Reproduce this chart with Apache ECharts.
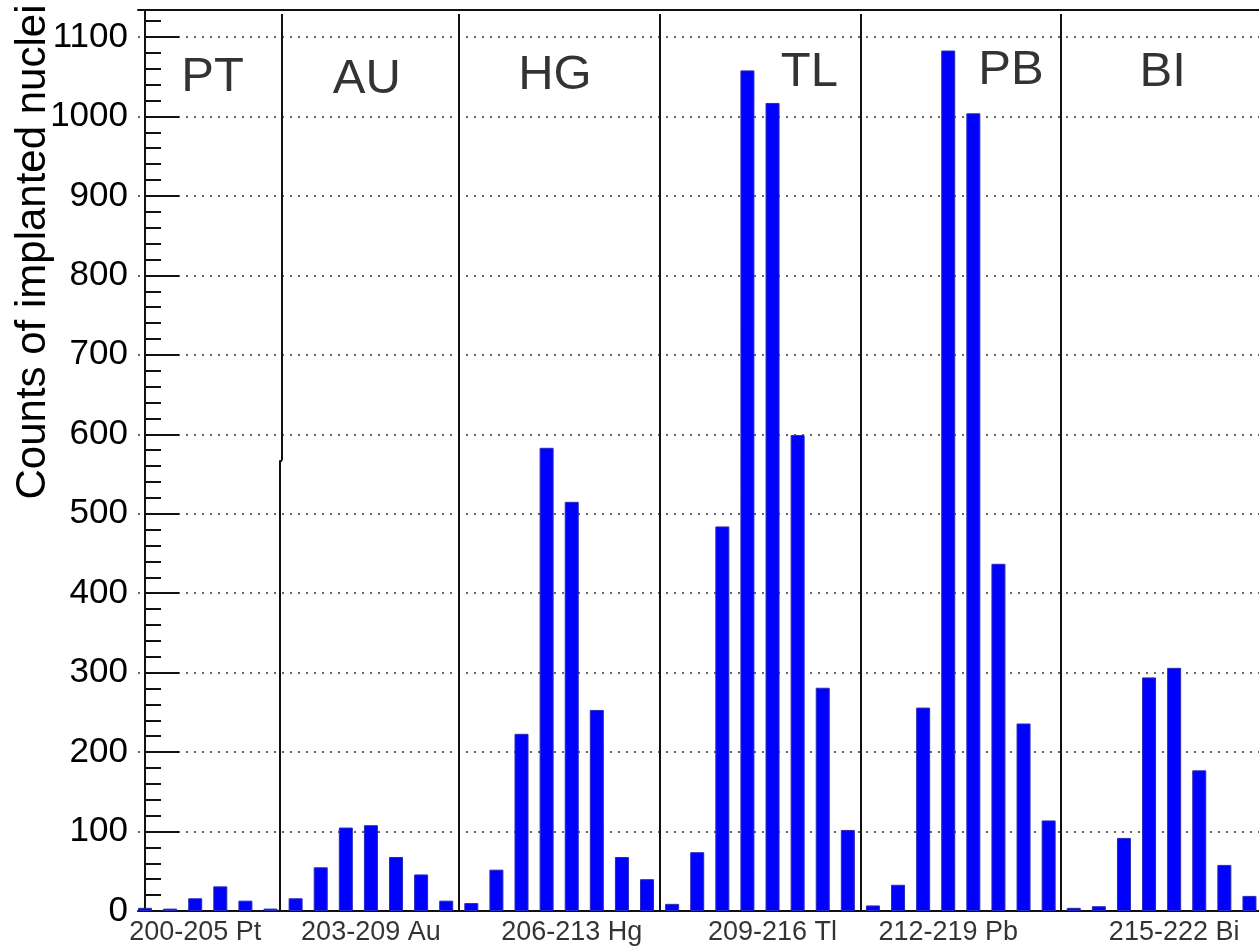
<!DOCTYPE html>
<html>
<head>
<meta charset="utf-8">
<script src="https://cdn.jsdelivr.net/npm/echarts@6/dist/echarts.min.js"></script>
<style>
  html, body { margin: 0; padding: 0; background: #ffffff; }
  #chart { width: 1259px; height: 948px; }
</style>
</head>
<body>
<div id="chart"></div>
<script>
// Implanted-nuclei counts per isotope, one array per element (consecutive mass numbers)
const ptCounts = [4, 3, 16, 31, 13, 3];                    // 200-205 Pt
const auCounts = [16, 55, 105, 108, 68, 46, 13];           // 203-209 Au
const hgCounts = [10, 52, 223, 583, 515, 253, 68, 40];     // 206-213 Hg
const tlCounts = [9, 74, 484, 1058, 1017, 599, 281, 102];  // 209-216 Tl
const pbCounts = [7, 33, 256, 1083, 1004, 437, 236, 114];  // 212-219 Pb
const biCounts = [4, 6, 92, 294, 306, 177, 58, 19];        // 215-222 Bi

const elementTags = ['PT', 'AU', 'HG', 'TL', 'PB', 'BI'];
const rangeLabels = ['200-205 Pt', '203-209 Au', '206-213 Hg', '209-216 Tl', '212-219 Pb', '215-222 Bi'];
const yTicks = [0, 100, 200, 300, 400, 500, 600, 700, 800, 900, 1000, 1100];

// Where the text annotations sit, in axis units (bin index, counts)
const rangeLabelBins = [2, 9, 17, 25, 32, 41];
const tagBinX = [2.69, 8.84, 16.33, 26.47, 34.5, 40.54];
const tagCountY = [1049, 1046, 1052, 1055, 1058, 1055];

const groups = [ptCounts, auCounts, hgCounts, tlCounts, pbCounts, biCounts];

// Flatten the groups into consecutive bins
const barData = [];
const boundaries = [];
let bin = 0;
groups.forEach((g, gi) => {
  g.forEach(v => { barData.push([bin, v]); bin++; });
  if (gi < groups.length - 1) boundaries.push(bin - 0.5);
});

// Vertical separators between elements (the first one has a small jog at 567)
const sepTop = 1129;
const sepLines = [];
boundaries.forEach((b, i) => {
  if (i === 0) {
    sepLines.push([{ coord: [b - 0.04, 567] }, { coord: [b - 0.04, sepTop] }]);
    sepLines.push([{ coord: [b - 0.14, 0] }, { coord: [b - 0.14, 567] }]);
    sepLines.push([{ coord: [b - 0.14, 567] }, { coord: [b - 0.04, 567] }]);
  } else {
    sepLines.push([{ coord: [b, 0] }, { coord: [b, sepTop] }]);
  }
});

const FONT = '"Liberation Sans", Arial, sans-serif';
const frameLine = { show: true, lineStyle: { color: '#111', width: 2 } };
const chart = echarts.init(document.getElementById('chart'), null, { renderer: 'canvas' });

chart.setOption({
  animation: false,
  backgroundColor: '#ffffff',
  grid: { left: 138, top: 10, right: 0, bottom: 37 },
  xAxis: [
    {
      type: 'value',
      min: -0.279,
      max: 44.38,
      axisLine: frameLine,
      axisTick: { show: false },
      axisLabel: { show: false },
      splitLine: { show: false }
    },
    {
      // top edge of the frame
      type: 'value',
      position: 'top',
      min: -0.279,
      max: 44.38,
      axisLine: frameLine,
      axisTick: { show: false },
      axisLabel: { show: false },
      splitLine: { show: false }
    }
  ],
  yAxis: {
    type: 'value',
    min: 0,
    max: 1134,
    interval: 100,
    axisLine: frameLine,
    axisTick: { show: true, inside: true, length: 34, lineStyle: { color: '#111', width: 2 } },
    minorTick: { show: true, splitNumber: 5, length: 16, lineStyle: { color: '#111', width: 2 } },
    axisLabel: {
      show: true, margin: 10, color: '#000', fontFamily: FONT, fontSize: 35,
      formatter: v => (yTicks.indexOf(v) >= 0 ? String(v) : '')
    },
    splitLine: { show: true, lineStyle: { color: '#333', width: 1.6, type: [2, 6] } }
  },
  graphic: [{
    type: 'text',
    x: 33, y: 252,
    rotation: Math.PI / 2,
    style: {
      text: 'Counts of implanted nuclei',
      font: '42px ' + FONT,
      fill: '#000',
      align: 'center',
      verticalAlign: 'middle'
    }
  }],
  series: [
    {
      type: 'bar',
      data: barData,
      barWidth: 14,
      itemStyle: { color: '#0000ff', borderColor: '#2a2ab8', borderWidth: 1 },
      markLine: {
        silent: true,
        symbol: ['none', 'none'],
        label: { show: false },
        lineStyle: { color: '#111', width: 2, type: 'solid' },
        data: sepLines
      }
    },
    {
      type: 'scatter',
      clip: false,
      symbolSize: 1,
      itemStyle: { color: 'rgba(0,0,0,0)' },
      data: rangeLabelBins.map((b, i) => ({ value: [b, 0], name: rangeLabels[i] })),
      label: {
        show: true, position: 'bottom', distance: 8,
        formatter: p => p.name,
        fontFamily: FONT, fontSize: 27, color: '#000'
      }
    },
    {
      type: 'scatter',
      clip: false,
      symbolSize: 1,
      itemStyle: { color: 'rgba(0,0,0,0)' },
      data: elementTags.map((t, i) => ({ value: [tagBinX[i], tagCountY[i]], name: t })),
      label: {
        show: true, position: 'inside',
        formatter: p => p.name,
        fontFamily: FONT, fontSize: 49, color: '#000'
      }
    }
  ]
});
</script>
</body>
</html>
